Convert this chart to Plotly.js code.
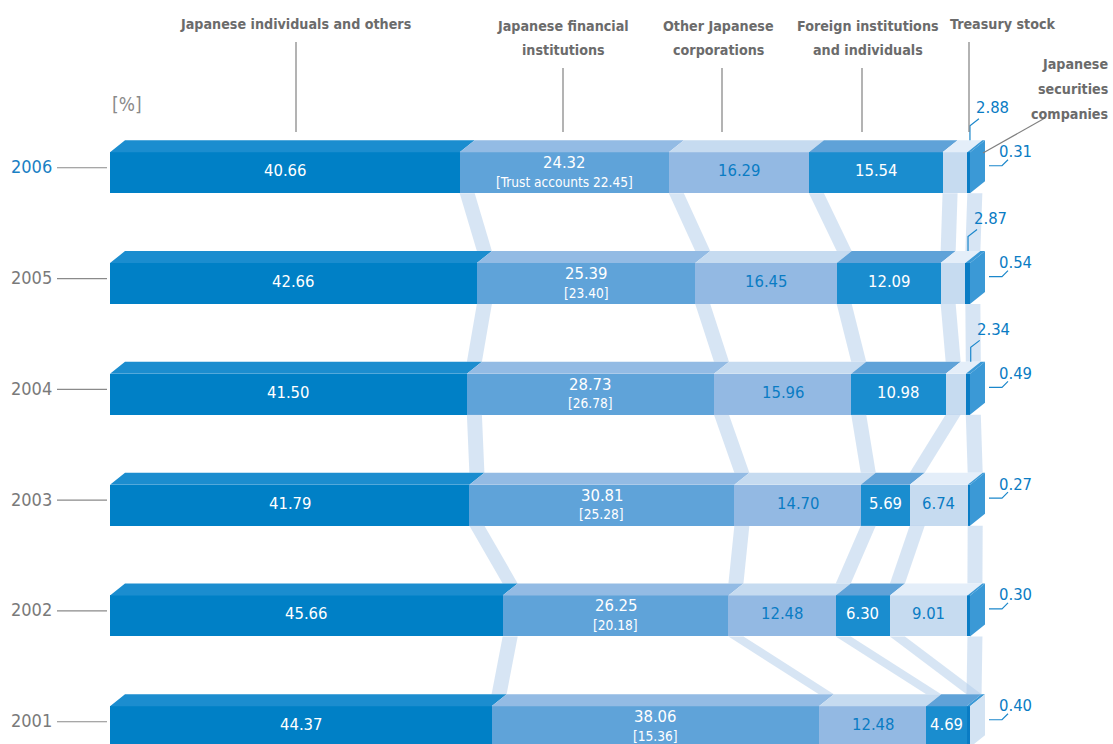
<!DOCTYPE html>
<html>
<head>
<meta charset="utf-8">
<script src="https://cdn.plot.ly/plotly-3.0.1.min.js"></script>
<style>
html,body{margin:0;padding:0;background:#ffffff;}
#chart{width:1113px;height:744px;}
</style>
</head>
<body>
<div id="chart"></div>
<script>
// ================= DATA =================
const years = [2006, 2005, 2004, 2003, 2002, 2001];
const categories = [
  'Japanese individuals and others',
  'Japanese financial institutions',
  'Other Japanese corporations',
  'Foreign institutions and individuals',
  'Treasury stock',
  'Japanese securities companies'
];
const headerLabels = [
  ['Japanese individuals and others'],
  ['Japanese financial', 'institutions'],
  ['Other Japanese', 'corporations'],
  ['Foreign institutions', 'and individuals'],
  ['Treasury stock'],
  ['Japanese', 'securities', 'companies']
];
const individuals = [40.66, 42.66, 41.50, 41.79, 45.66, 44.37];
const financial   = [24.32, 25.39, 28.73, 30.81, 26.25, 38.06];
const trustAccounts = [22.45, 23.40, 26.78, 25.28, 20.18, 15.36];
const otherCorp   = [16.29, 16.45, 15.96, 14.70, 12.48, 12.48];
const foreign     = [15.54, 12.09, 10.98, 5.69, 6.30, 4.69];
const treasury    = [2.88, 2.87, 2.34, 6.74, 9.01, 0];
const securities  = [0.31, 0.54, 0.49, 0.27, 0.30, 0.40];
const unitLabel = '[%]';
const trustPrefix = 'Trust accounts ';

// ================= STYLE / GEOMETRY =================
const W = 1113, H = 744;
const X0PX = 110, PXX = 8.6;        // pixel of 0 %, pixels per %
const Y0PX = 172.75, PXY = 110.8;   // pixel of first year row, pixels per year
const xRange = [-X0PX / PXX, (W - X0PX) / PXX];
const yRange = [years[0] - (H - Y0PX) / PXY, years[0] + Y0PX / PXY];
const ux = px => px / PXX;          // px -> % units
const uy = px => px / PXY;          // px -> year units
const BAR_H = uy(41), DX = ux(15), DY = uy(12), RW = ux(15);
const FONT = '"DejaVu Sans Condensed", "Liberation Sans Narrow", "Liberation Sans", sans-serif';
const frontColors = ['#0080c6', '#5fa3d9', '#93b9e3', '#1a8dcf', '#c6dbf0', '#0a7cc4'];
const topColors   = ['#1b8dcf', '#93bbe4', '#c6dbf0', '#5fa2d8', '#e4eef9', '#3b99d6'];
const sideColors  = ['#3b99d6', '#3b99d6', '#3b99d6', '#3b99d6', '#3b99d6', '#d3e3f3'];
const labelColors = ['#ffffff', '#ffffff', '#0a7cc4', '#ffffff', '#0a7cc4', '#0a7cc4'];
const BLUE = '#0a7cc4', GREY = '#6b6b6b', LINE = '#808080';
const px2paperX = px => px / W, px2paperY = py => 1 - py / H;

const series = [individuals, financial, otherCorp, foreign, treasury, securities];
const cum = years.map((_, i) => {
  const c = [0];
  series.forEach(s => c.push(c[c.length - 1] + s[i]));
  return c;
});

const traces = [];

// ---- ribbons (connect segment boundaries between consecutive years) ----
for (let k = 1; k <= 5; k++) {
  const xs = [], ys = [];
  for (let i = 0; i < years.length - 1; i++) {
    const bu = cum[i][k], bl = cum[i + 1][k];
    const yu = years[i] - BAR_H / 2, yl = years[i + 1] + BAR_H / 2 + DY;
    xs.push(bu, bu + RW, bl + RW, bl, bu, null);
    ys.push(yu, yu, yl, yl, yu, null);
  }
  traces.push({type: 'scatter', mode: 'lines', x: xs, y: ys, fill: 'toself',
    fillcolor: 'rgba(176,204,234,0.5)', line: {width: 0}, hoverinfo: 'skip', showlegend: false});
}

// ---- front faces (stacked bars) ----
series.forEach((s, k) => {
  traces.push({type: 'bar', orientation: 'h', name: categories[k], y: years, x: s,
    width: BAR_H, marker: {color: frontColors[k], line: {width: 0}},
    hoverinfo: 'skip', showlegend: false});
});

// ---- top faces ----
series.forEach((s, k) => {
  const xs = [], ys = [];
  years.forEach((yr, i) => {
    if (s[i] <= 0) return;
    const a = cum[i][k], b = cum[i][k + 1], yt = yr + BAR_H / 2;
    xs.push(a, b, b + DX, a + DX, a, null);
    ys.push(yt, yt, yt + DY, yt + DY, yt, null);
  });
  traces.push({type: 'scatter', mode: 'lines', x: xs, y: ys, fill: 'toself',
    fillcolor: topColors[k], line: {width: 0}, hoverinfo: 'skip', showlegend: false});
});

// ---- right side faces ----
years.forEach((yr, i) => {
  const e = cum[i][6], yt = yr + BAR_H / 2, yb = yr - BAR_H / 2;
  traces.push({type: 'scatter', mode: 'lines',
    x: [e, e + DX, e + DX, e, e], y: [yt, yt + DY, yb + DY, yb, yt],
    fill: 'toself', fillcolor: sideColors[i], line: {width: 0}, hoverinfo: 'skip', showlegend: false});
});

// ================= ANNOTATIONS =================
const annotations = [];
const shapes = [];
const valFont = c => ({family: FONT, size: 16.5, color: c});

years.forEach((yr, i) => {
  annotations.push({xref: 'paper', yref: 'y', x: px2paperX(54), y: yr + uy(6), xanchor: 'right', yanchor: 'middle',
    text: String(yr), showarrow: false, font: {family: FONT, size: 18, color: i === 0 ? '#1a80c4' : '#7a7a7a'}});
  shapes.push({type: 'line', xref: 'paper', yref: 'y', x0: px2paperX(57), x1: px2paperX(107),
    y0: yr + uy(5), y1: yr + uy(5), line: {color: '#8a8a8a', width: 1.2}});

  series.forEach((s, k) => {
    const v = s[i];
    if (v <= 0) return;
    const mid = (cum[i][k] + cum[i][k + 1]) / 2;
    const txt = v.toFixed(2);
    if (k === 1) {
      annotations.push({x: mid, y: yr + uy(10), yanchor: 'middle', text: txt, showarrow: false, font: valFont('#ffffff')});
      annotations.push({x: mid, y: yr - uy(9), yanchor: 'middle',
        text: '[' + (i === 0 ? trustPrefix : '') + trustAccounts[i].toFixed(2) + ']',
        showarrow: false, font: {family: FONT, size: 13.6, color: '#ffffff'}});
    } else if (k === 4 && v * PXX < 40) {
      const lx = mid + DX, y0 = yr + uy(32.5), y1 = yr + uy(47), y2 = yr + uy(54);
      shapes.push({type: 'path', xref: 'x', yref: 'y',
        path: `M${lx},${y0} L${lx},${y1} L${lx + ux(9)},${y2}`, line: {color: '#1b87cb', width: 1.2}});
      annotations.push({x: lx + ux(4), y: yr + uy(65), xanchor: 'left', yanchor: 'middle', text: txt, showarrow: false, font: valFont(BLUE)});
    } else if (k === 5) {
      const e = cum[i][6];
      const ly = yr + uy(7);
      shapes.push({type: 'path', xref: 'x', yref: 'y',
        path: `M${e + ux(19)},${ly} L${e + ux(32)},${ly} L${e + ux(38)},${ly + uy(6)}`, line: {color: '#1b87cb', width: 1.2}});
      annotations.push({x: e + ux(27), y: yr + uy(21), xanchor: 'left', yanchor: 'middle', text: txt, showarrow: false, font: valFont(BLUE)});
    } else {
      annotations.push({x: mid, y: yr + uy(2), yanchor: 'middle', text: txt, showarrow: false, font: valFont(labelColors[k])});
    }
  });
});

// ---- headers ----
const headerPos = [
  {x: 296, y: 24, anchor: 'center', gap: 24},
  {x: 563, y: 26, anchor: 'center', gap: 24},
  {x: 718, y: 26, anchor: 'center', gap: 24},
  {x: 868, y: 26, anchor: 'center', gap: 24},
  {x: 1002, y: 24, anchor: 'center', gap: 24},
  {x: 1110, y: 64, anchor: 'right', gap: 25}
];
headerLabels.forEach((lines, k) => {
  const p = headerPos[k];
  lines.forEach((t, j) => {
    annotations.push({xref: 'paper', yref: 'paper', x: px2paperX(p.x), y: px2paperY(p.y + j * p.gap),
      xanchor: p.anchor, yanchor: 'middle', text: t, showarrow: false,
      font: {family: FONT, size: 14.2, color: GREY, weight: 'bold'}});
  });
});
const headerLines = [[296, 42, 132, 296], [563, 68, 132, 563], [722, 68, 132, 722], [862, 68, 132, 862], [969, 42, 132, 969]];
headerLines.forEach(l => shapes.push({type: 'line', xref: 'paper', yref: 'paper',
  x0: px2paperX(l[0]), x1: px2paperX(l[3]), y0: px2paperY(l[1]), y1: px2paperY(l[2]),
  line: {color: LINE, width: 1.2}}));
shapes.push({type: 'line', xref: 'paper', yref: 'paper', x0: px2paperX(1045), y0: px2paperY(118),
  x1: px2paperX(983), y1: px2paperY(153), line: {color: LINE, width: 1.2}});

annotations.push({xref: 'paper', yref: 'paper', x: px2paperX(110), y: px2paperY(104), xanchor: 'left', yanchor: 'middle',
  text: unitLabel, showarrow: false, font: {family: FONT, size: 19, color: '#8a8a8a'}});

const layout = {
  width: W, height: H,
  margin: {l: 0, r: 0, t: 0, b: 0, pad: 0},
  paper_bgcolor: '#ffffff', plot_bgcolor: '#ffffff',
  barmode: 'stack', bargap: 0,
  showlegend: false,
  xaxis: {range: xRange, visible: false, fixedrange: true},
  yaxis: {range: yRange, visible: false, fixedrange: true},
  annotations: annotations,
  shapes: shapes
};

Plotly.newPlot('chart', traces, layout, {displayModeBar: false, staticPlot: true});
</script>
</body>
</html>
